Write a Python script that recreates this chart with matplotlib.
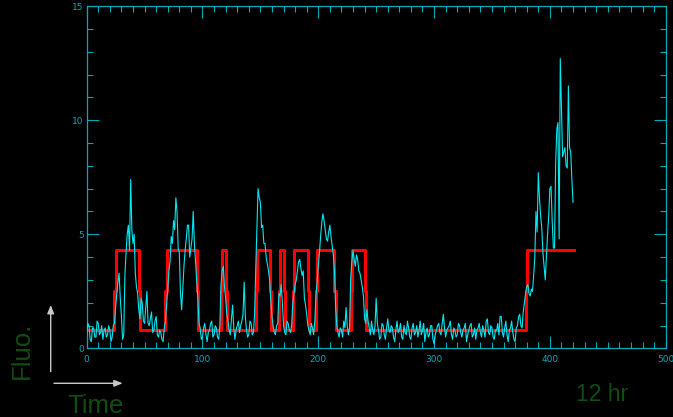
import numpy as np
import matplotlib
matplotlib.use('Agg')
import matplotlib.pyplot as plt
from matplotlib.ticker import MultipleLocator

# fluorescence trace, one reading per time unit from 0 to 420
fluo = [
    0.6, 1.1, 1.0, 0.4, 0.3, 0.9, 0.9, 0.5, 0.5, 1.2,
    1.1, 0.6, 0.7, 1.0, 0.4, 0.8, 0.9, 0.5, 0.6, 1.0,
    0.8, 0.3, 0.5, 1.0, 1.1, 1.8, 2.4, 2.9, 3.3, 2.2,
    1.4, 0.4, 0.6, 3.2, 4.2, 5.0, 5.4, 4.3, 7.4, 5.2,
    4.6, 5.0, 3.3, 2.7, 2.4, 1.7, 1.3, 2.2, 2.0, 1.2,
    1.1, 1.8, 2.5, 1.1, 1.0, 1.3, 1.6, 0.7, 0.8, 1.2,
    1.4, 0.6, 0.5, 0.8, 0.7, 0.4, 0.3, 0.9, 1.2, 1.9,
    2.6, 3.4, 3.8, 4.9, 4.6, 5.6, 5.2, 6.6, 6.0, 4.4,
    4.2, 2.4, 1.7, 2.6, 3.6, 4.3, 4.8, 5.4, 5.4, 4.0,
    4.4, 4.8, 6.0, 4.6, 3.8, 3.0, 2.2, 1.1, 0.9, 0.4,
    0.5, 0.9, 1.1, 0.6, 0.3, 0.7, 0.8, 1.1, 1.2, 0.5,
    0.6, 1.0, 0.9, 0.5, 0.4, 1.0, 2.8, 3.4, 3.6, 2.7,
    2.2, 1.5, 1.2, 0.8, 0.6, 1.3, 1.9, 0.9, 0.4, 0.8,
    1.0, 1.2, 0.7, 1.0, 1.2, 1.5, 2.9, 1.4, 0.8, 0.5,
    0.6, 1.2, 1.1, 0.6, 0.7, 1.5, 3.5, 5.3, 7.0, 6.6,
    6.4, 5.3, 5.4, 4.6, 4.6, 4.0, 3.7, 3.4, 3.0, 2.1,
    1.4, 1.0, 0.7, 0.6, 1.0, 1.1, 2.4, 2.3, 2.8, 2.0,
    1.0, 0.7, 0.6, 1.2, 1.1, 0.8, 0.7, 1.0, 2.0, 2.4,
    2.8, 3.0, 3.4, 3.8, 3.9, 3.5, 3.2, 3.4, 2.2, 1.9,
    1.5, 1.0, 0.8, 0.6, 1.1, 0.9, 0.6, 1.2, 2.3, 2.9,
    3.6, 4.2, 4.9, 5.5, 5.9, 5.6, 5.2, 4.8, 4.7, 5.1,
    5.4, 4.9, 4.5, 4.1, 3.4, 1.8, 1.0, 0.7, 0.5, 0.9,
    0.8, 0.5, 1.2, 0.9, 1.8, 1.0, 0.6, 0.9, 3.1, 3.8,
    4.3, 3.9, 3.6, 4.1, 3.9, 3.4, 3.3, 3.0, 2.7, 2.3,
    1.3, 1.1, 1.7, 1.2, 0.9, 0.6, 1.2, 0.8, 0.6, 1.0,
    2.2, 1.1, 0.8, 0.4, 0.5, 1.1, 1.0, 0.6, 0.4, 0.9,
    1.3, 0.8, 0.7, 1.0, 0.9, 0.5, 0.3, 0.8, 1.2, 0.7,
    0.8, 1.1, 0.5, 0.4, 1.0, 0.7, 0.6, 1.2, 0.9, 0.5,
    0.4, 0.9, 1.1, 0.6, 0.7, 1.0, 0.5, 0.8, 1.2, 0.6,
    0.8, 1.1, 0.3, 0.7, 0.9, 0.5, 0.6, 1.0, 1.0, 0.4,
    0.2, 0.6, 0.8, 1.0, 1.1, 0.7, 0.6, 1.1, 1.5, 0.9,
    0.5, 0.8, 0.9, 1.0, 1.2, 0.6, 0.4, 0.9, 0.8, 0.5,
    0.6, 1.1, 1.0, 0.7, 0.5, 0.8, 0.9, 1.1, 0.3, 0.6,
    0.8, 1.0, 1.1, 0.5, 0.6, 0.9, 0.4, 0.8, 0.9, 1.1,
    0.7, 0.5, 1.0, 0.8, 0.5, 1.2, 1.3, 0.7, 0.6, 1.0,
    0.9, 0.5, 0.4, 0.8, 0.8, 1.1, 0.6, 1.4, 1.4, 0.7,
    0.5, 0.9, 1.2, 0.6, 0.3, 0.8, 0.9, 1.2, 0.7, 0.4,
    0.3, 0.9, 1.0, 1.4, 1.5, 1.0, 0.9, 1.6, 2.0, 2.4,
    2.7, 2.8, 2.4, 2.3, 2.6, 2.5, 3.2, 4.0, 6.0, 5.1,
    7.7, 6.6, 5.8, 5.3, 4.2, 3.6, 3.0, 4.0, 5.0, 5.8,
    7.0, 7.1, 5.6, 4.4, 4.4, 8.1, 9.6, 9.9, 4.8, 12.7,
    10.5, 8.4, 8.6, 8.8, 8.0, 7.9, 11.5, 8.8, 8.6, 7.4,
    6.4,
]
time = np.arange(len(fluo))

# fitted two-state model: change points and the level held from each one
state_t = [0, 24, 25, 45, 46, 68, 69, 95, 96, 116, 117, 120, 121,
           146, 147, 158, 159, 166, 167, 170, 171, 178, 179, 191, 192,
           198, 199, 214, 215, 228, 229, 240, 241, 379, 380, 421]
state_lvl = [0.8, 2.5, 4.3, 2.5, 0.8, 2.5, 4.3, 2.5, 0.8, 2.5, 4.3, 2.5, 0.8,
             2.5, 4.3, 2.5, 0.8, 2.5, 4.3, 2.5, 0.8, 2.5, 4.3, 2.5, 0.8,
             2.5, 4.3, 2.5, 0.8, 2.5, 4.3, 2.5, 0.8, 2.5, 4.3, 4.3]

axcol = '#00aabb'
green = '#0f4d12'

fig = plt.figure(figsize=(6.73, 4.17), dpi=100, facecolor='black')
ax = fig.add_axes([0.1288, 0.1643, 0.8603, 0.8213], facecolor='black')

ax.step(state_t, state_lvl, where='post', color='#ff0000', lw=2.2, zorder=2)
ax.plot(time, fluo, color='#00e8f0', lw=0.8, zorder=3)

ax.set_xlim(0, 500)
ax.set_ylim(0, 15)
ax.xaxis.set_major_locator(MultipleLocator(100))
ax.xaxis.set_minor_locator(MultipleLocator(10))
ax.yaxis.set_major_locator(MultipleLocator(5))
ax.yaxis.set_minor_locator(MultipleLocator(1))
ax.tick_params(which='both', direction='in', top=True, right=True,
               color=axcol, width=0.8, labelcolor=axcol, labelsize=6.5)
ax.tick_params(which='major', length=8.6)
ax.tick_params(which='minor', length=4.3)
ax.tick_params(axis='x', pad=5)
ax.tick_params(axis='y', pad=2)
for s in ax.spines.values():
    s.set_color(axcol)
    s.set_linewidth(0.9)

# axis annotations outside the frame, placed in figure coordinates
fig.text(29.3 / 673, 67 / 417, 'Fluo.', rotation=90, rotation_mode='anchor',
         ha='center', va='baseline', color=green, fontsize=18.5,
         family='Liberation Sans')
fig.text(67.5 / 673, 3.7 / 417, 'Time', ha='left', va='baseline',
         color=green, fontsize=18.5, family='Liberation Sans')
fig.text(576 / 673, 16.3 / 417, '12 hr', ha='left', va='baseline',
         color=green, fontsize=16.5, family='Liberation Sans')

arrow_kw = dict(arrowstyle='-|>,head_length=0.5,head_width=0.2',
                color='#c8c8c8', lw=1.0, shrinkA=0, shrinkB=0)
ax.annotate('', xy=(50.7 / 673, 112 / 417), xytext=(50.7 / 673, 45.3 / 417),
            xycoords='figure fraction', textcoords='figure fraction',
            arrowprops=arrow_kw, annotation_clip=False)
ax.annotate('', xy=(122.7 / 673, 33.7 / 417), xytext=(54 / 673, 33.7 / 417),
            xycoords='figure fraction', textcoords='figure fraction',
            arrowprops=arrow_kw, annotation_clip=False)

fig.savefig('out.png', dpi=100, facecolor='black')
